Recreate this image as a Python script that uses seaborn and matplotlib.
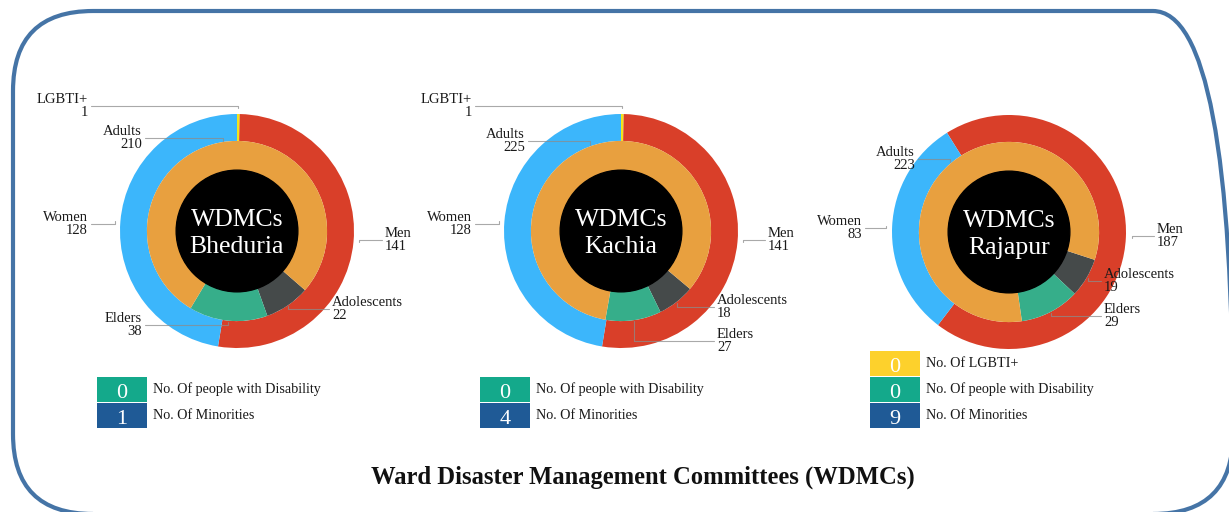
import matplotlib
matplotlib.use("Agg")
import matplotlib.pyplot as plt
from matplotlib.patches import Rectangle, FancyBboxPatch, Circle
import numpy as np
import seaborn as sns

# data
committees = ["Bheduria", "Kachia", "Rajapur"]
men = [141, 141, 187]
women = [128, 128, 83]
lgbti = [1, 1, 0]
adults = [210, 225, 223]
adolescents = [22, 18, 19]
elders = [38, 27, 29]
disability = [0, 0, 0]
minorities = [1, 4, 9]

title = "Ward Disaster Management Committees (WDMCs)"

W, H = 1229, 512
sns.set_theme(style="white")
plt.rcParams["font.family"] = ["Liberation Serif", "DejaVu Serif"]

c_red, c_blue, c_yel = "#d93f29", "#3cb6fb", "#f2e41a"
c_orange, c_gray, c_green = "#e8a03f", "#454a4a", "#36ae8a"
box_yel, box_green, box_blue = "#fdd12c", "#14a98b", "#1f5a96"
frame_col = "#4574a6"

# layout in image pixels (origin top-left)
centers = [(237, 231), (621, 231), (1009, 232)]
R = 117
outer_start = [0, 0, 328]      # clockwise from 12 o'clock
inner_start = [131, 130, 108]
legend_x = [97, 480, 870]
label_pos = [
    {"LGBTI+": (88, 106, "l"), "Adults": (142, 138, "l"), "Women": (88, 224, "l"),
     "Elders": (142, 325, "l"), "Men": (385, 240, "r"), "Adolescents": (332, 309, "r")},
    {"LGBTI+": (472, 106, "l"), "Adults": (525, 141, "l"), "Women": (472, 224, "l"),
     "Men": (768, 240, "r"), "Adolescents": (717, 307, "r"), "Elders": (717, 341, "r")},
    {"Adults": (915, 159, "l"), "Women": (862, 228, "l"), "Men": (1157, 236, "r"),
     "Adolescents": (1104, 281, "r"), "Elders": (1104, 316, "r")},
]

fig = plt.figure(figsize=(W / 100, H / 100), dpi=100)
bg = fig.add_axes([0, 0, 1, 1])
bg.set_xlim(0, W)
bg.set_ylim(H, 0)
bg.axis("off")

# rounded slide frame (drawn on a plain, non-inverted axes)
fr = fig.add_axes([0, 0, 1, 1], zorder=-1)
fr.set_xlim(0, W)
fr.set_ylim(0, H)
fr.axis("off")
fr.add_patch(FancyBboxPatch((13, H - 514), 1220, 503, boxstyle="round,pad=0,rounding_size=80",
                            fill=False, ec=frame_col, lw=3, clip_on=False))

half = 1.3
for i, name in enumerate(committees):
    cx, cy = centers[i]
    s = half * R
    ax = fig.add_axes([(cx - s) / W, (H - cy - s) / H, 2 * s / W, 2 * s / H])

    outer_lab = ["LGBTI+", "Men", "Women"]
    outer_val = [lgbti[i], men[i], women[i]]
    wo, _ = ax.pie(outer_val, radius=1, startangle=90 - outer_start[i], counterclock=False,
                   colors=[c_yel, c_red, c_blue], wedgeprops=dict(width=0.23, linewidth=0))
    inner_lab = ["Adolescents", "Elders", "Adults"]
    inner_val = [adolescents[i], elders[i], adults[i]]
    wi, _ = ax.pie(inner_val, radius=0.77, startangle=90 - inner_start[i], counterclock=False,
                   colors=[c_gray, c_green, c_orange], wedgeprops=dict(width=0.27, linewidth=0))
    ax.add_patch(Circle((0, 0), 0.52, color="black", zorder=3))
    ax.text(0, -0.02, f"WDMCs\n{name}", color="white", ha="center", va="center",
            fontsize=18.5, linespacing=1.3, zorder=4)
    ax.set_xlim(-half, half)
    ax.set_ylim(-half, half)
    ax.set_aspect("equal")
    ax.axis("off")

    rings = [(wo, outer_lab, outer_val, 1.05), (wi, inner_lab, inner_val, 0.78)]
    for wedges, labs, vals, r in rings:
        for w, lab, v in zip(wedges, labs, vals):
            if v == 0 or lab not in label_pos[i]:
                continue
            tx, ty, side = label_pos[i][lab]
            a = np.deg2rad((w.theta1 + w.theta2) / 2)
            left = side == "l"
            ax.annotate(f"{lab}\n{v}", xy=(r * np.cos(a), r * np.sin(a)), xycoords="data",
                        xytext=(tx, ty), textcoords=bg.transData,
                        ha="right" if left else "left", va="center", fontsize=10.5,
                        linespacing=1.05, color="#1a1a1a", zorder=6,
                        arrowprops=dict(arrowstyle="-", color="#8c8c8c", lw=0.8, alpha=0.75,
                                        shrinkA=0, shrinkB=0, relpos=(1, 0.5) if left else (0, 0.5),
                                        connectionstyle="angle,angleA=0,angleB=90,rad=0"))

    # value tiles under each donut
    items = []
    if lgbti[i] == 0:
        items.append(("No. Of LGBTI+", lgbti[i], box_yel))
    items.append(("No. Of people with Disability", disability[i], box_green))
    items.append(("No. Of Minorities", minorities[i], box_blue))
    bx = legend_x[i]
    for k, (txt, v, col) in enumerate(reversed(items)):
        top = 403 - k * 26
        bg.add_patch(Rectangle((bx, top), 50, 25, color=col, lw=0))
        bg.text(bx + 25, top + 13.5, str(v), color="white", ha="center", va="center_baseline",
                fontsize=16)
        bg.text(bx + 56, top + 12.5, txt, color="#1a1a1a", ha="left", va="center", fontsize=10.2)

bg.text(643, 477, title, ha="center", va="center", fontsize=17.7, fontweight="bold", color="#111111")

fig.savefig("out.png", dpi=100)
